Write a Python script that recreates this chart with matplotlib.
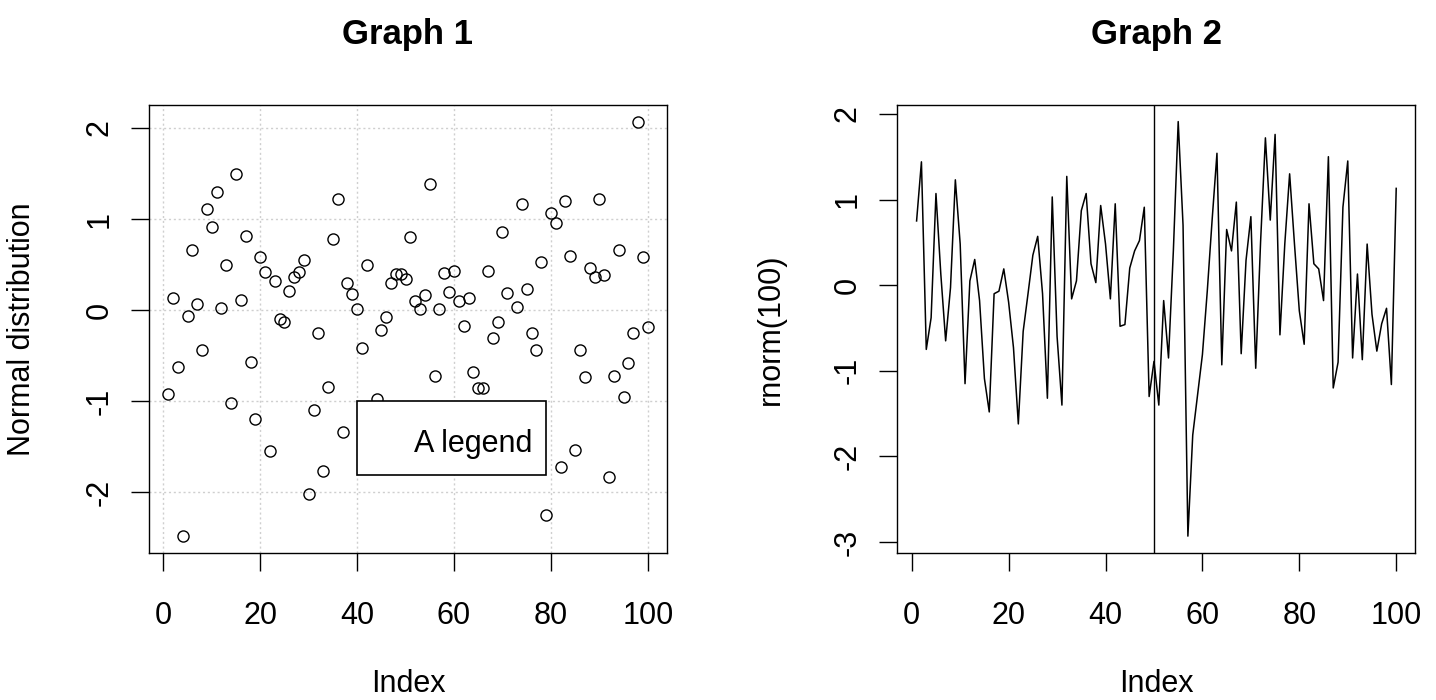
import matplotlib.pyplot as plt
from matplotlib.patches import Rectangle

plt.rcParams['font.family'] = ['Liberation Sans', 'DejaVu Sans']

idx = list(range(1, 101))

# Graph 1: scatter of 100 normal draws
normal_values = [
  -0.92, 0.13, -0.62, -2.48, -0.06, 0.66, 0.07, -0.44, 1.11, 0.91,
  1.30, 0.02, 0.50, -1.02, 1.49, 0.11, 0.81, -0.57, -1.19, 0.58,
  0.42, -1.55, 0.32, -0.10, -0.13, 0.21, 0.36, 0.42, 0.55, -2.02,
  -1.10, -0.25, -1.76, -0.84, 0.78, 1.22, -1.34, 0.30, 0.18, 0.01,
  -0.41, 0.50, -1.40, -0.97, -0.22, -0.08, 0.30, 0.40, 0.40, 0.34,
  0.80, 0.10, 0.01, 0.17, 1.38, -0.72, 0.01, 0.41, 0.20, 0.43,
  0.10, -0.17, 0.13, -0.68, -0.85, -0.85, 0.43, -0.31, -0.13, 0.86,
  0.19, -1.50, 0.04, 1.17, 0.23, -0.25, -0.44, 0.53, -2.25, 1.07,
  0.96, -1.72, 1.20, 0.59, -1.53, -0.44, -0.73, 0.46, 0.36, 1.22,
  0.39, -1.83, -0.72, 0.66, -0.95, -0.58, -0.25, 2.07, 0.58, -0.19,
]

# Graph 2: line of another 100 draws
rnorm_values = [
  0.75, 1.44, -0.75, -0.38, 1.07, 0.13, -0.65, -0.03, 1.23, 0.48,
  -1.15, 0.05, 0.30, -0.18, -1.09, -1.48, -0.10, -0.07, 0.19, -0.20,
  -0.73, -1.62, -0.54, -0.10, 0.35, 0.57, -0.10, -1.32, 1.03, -0.60,
  -1.40, 1.27, -0.16, 0.05, 0.87, 1.07, 0.25, 0.03, 0.93, 0.48,
  -0.16, 0.95, -0.48, -0.46, 0.20, 0.40, 0.52, 0.91, -1.30, -0.89,
  -1.40, -0.18, -0.85, 0.40, 1.91, 0.70, -2.93, -1.75, -1.28, -0.81,
  -0.07, 0.76, 1.54, -0.93, 0.65, 0.40, 0.97, -0.80, 0.29, 0.80,
  -0.97, 0.50, 1.72, 0.76, 1.76, -0.58, 0.48, 1.30, 0.48, -0.30,
  -0.69, 0.95, 0.25, 0.19, -0.18, 1.50, -1.20, -0.90, 0.91, 1.45,
  -0.85, 0.13, -0.87, 0.48, -0.34, -0.77, -0.45, -0.27, -1.16, 1.13,
]

x_ticks = [0, 20, 40, 60, 80, 100]
y_ticks_1 = [-2, -1, 0, 1, 2]
y_ticks_2 = [-3, -2, -1, 0, 1, 2]
split_at = 50
legend_label = 'A legend'


def style_axes(ax, yticks):
  ax.margins(0.04)
  ax.set_xticks(x_ticks, [str(t) for t in x_ticks])
  ax.set_yticks(yticks, [str(t) for t in yticks], rotation=90, va='center')
  ax.tick_params(direction='out', length=13, width=1, labelsize=22, colors='black')
  ax.tick_params(axis='x', pad=22)
  ax.tick_params(axis='y', pad=12)
  for s in ax.spines.values():
    s.set_linewidth(1.0)
  ax.yaxis.set_label_coords(-0.245, 0.5)
  ax.xaxis.set_label_coords(0.5, -0.293)


fig = plt.figure(figsize=(14.36, 7.0), dpi=100)
ax1 = fig.add_axes([149 / 1436, 147.3 / 700, 518 / 1436, 447.7 / 700])
ax2 = fig.add_axes([897.4 / 1436, 147.3 / 700, 518 / 1436, 447.7 / 700])

# Graph 1
ax1.plot(idx, normal_values, linestyle='none', marker='o', markersize=8,
         markerfacecolor='none', markeredgecolor='black', markeredgewidth=1.0, zorder=2)
style_axes(ax1, y_ticks_1)
ax1.grid(True, color='#cfcfcf', linestyle=(0, (1.5, 2)), linewidth=1.0, zorder=0)
ax1.set_axisbelow(True)
ax1.add_patch(Rectangle((40, -1.805), 39.0, 0.805, facecolor='white',
                        edgecolor='black', linewidth=1.2, zorder=3))
ax1.text(51.7, -1.56, legend_label, fontsize=22, ha='left', va='baseline', zorder=4)
ax1.set_title('Graph 1', fontsize=25, fontweight='bold', pad=44)
ax1.set_xlabel('Index', fontsize=22, va='center')
ax1.set_ylabel('Normal distribution', fontsize=22, va='center')

# Graph 2
ax2.plot(idx, rnorm_values, color='black', linewidth=1.1)
ax2.axvline(split_at, color='black', linewidth=1.0)
style_axes(ax2, y_ticks_2)
ax2.set_title('Graph 2', fontsize=25, fontweight='bold', pad=44)
ax2.set_xlabel('Index', fontsize=22, va='center')
ax2.set_ylabel('rnorm(100)', fontsize=22, va='center')

plt.savefig('out.png', dpi=100)
